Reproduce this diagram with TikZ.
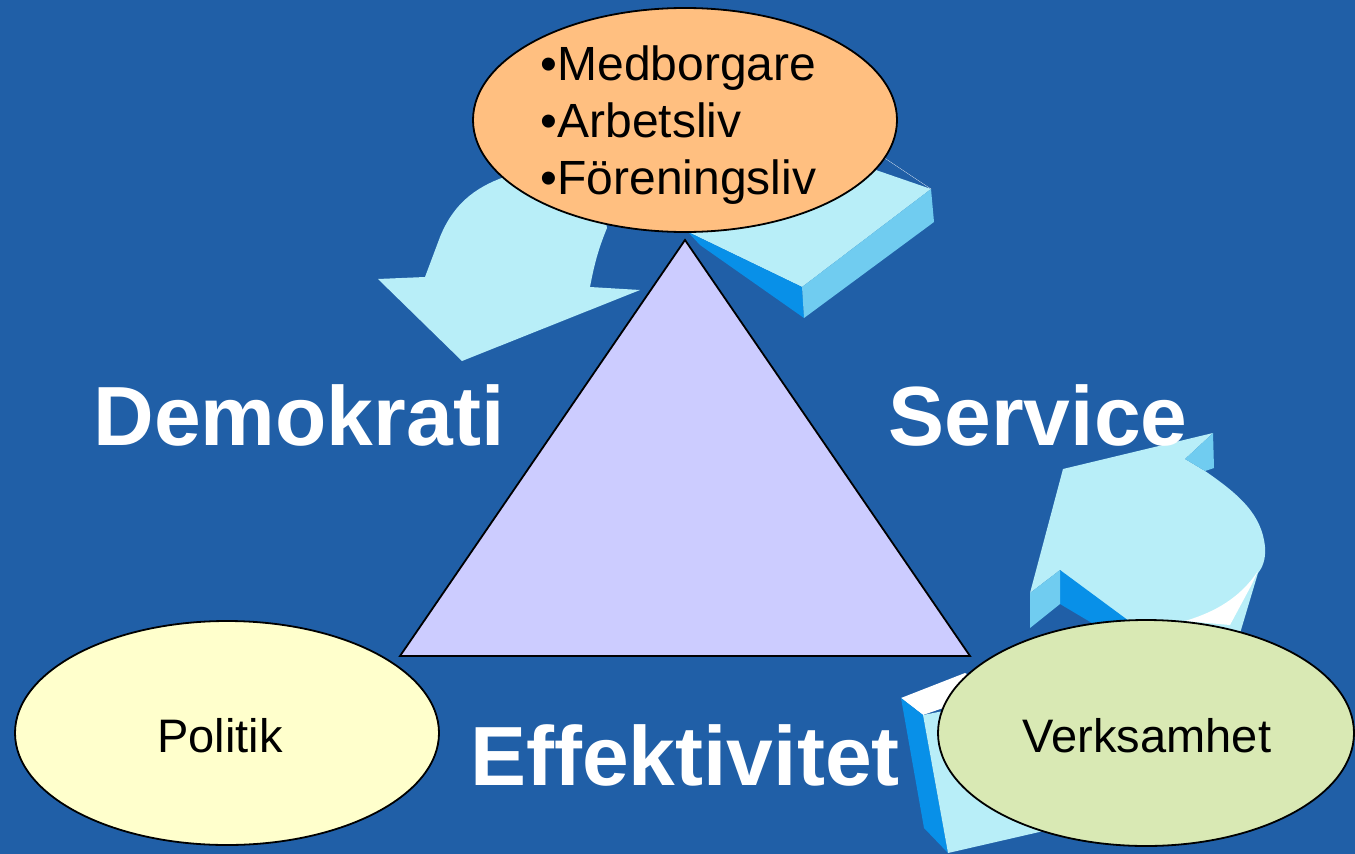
\documentclass[tikz,border=0pt]{standalone}
\usepackage{fontspec}
\setmainfont{Liberation Sans}
\usetikzlibrary{shapes}

\definecolor{slidebg}{RGB}{32,95,167}
\definecolor{arrowlight}{RGB}{184,238,248}
\definecolor{arrowmid}{RGB}{112,204,240}
\definecolor{arrowdark}{RGB}{8,144,232}
\definecolor{orangefill}{RGB}{255,191,128}
\definecolor{lavfill}{RGB}{204,204,255}
\definecolor{yellowfill}{RGB}{255,255,204}
\definecolor{greenfill}{RGB}{217,233,180}

\begin{document}
\begin{tikzpicture}[x=1pt,y=-1pt]
   \tikzset{BlobStyle/.style={ellipse, draw=black, line width=1.8pt, inner sep=0pt}}
   \tikzset{ItemStyle/.style={anchor=base west, font=\fontsize{48}{57}\selectfont}}
   \tikzset{WordStyle/.style={anchor=base, text=white, font=\fontsize{84}{98}\selectfont\bfseries}}
   \tikzset{SmallStyle/.style={anchor=base, font=\fontsize{47}{55}\selectfont}}
   \fill[slidebg] (0,0) rectangle (1355,854);
   % arrow top left
   \fill[arrowlight] (425,277) -- (440,237) .. controls (455,200) and (480,185) .. (510,175)
      -- (600,190) -- (607,228) .. controls (600,245) and (595,260) .. (590,287)
      -- (640,290) -- (462,361) -- (378,279) -- cycle;
   % arrow top right
   \fill[arrowlight] (700,200) -- (870,168) -- (931,189) -- (802,287) -- (688,232) -- cycle;
   \fill[arrowdark] (688,232) -- (802,287) -- (804,318) -- (700,245) -- cycle;
   \fill[arrowmid] (802,287) -- (931,189) -- (934,222) -- (804,318) -- cycle;
   \draw[white, very thin] (880,155) -- (931,189);
   \node[BlobStyle, fill=orangefill, minimum width=424pt, minimum height=224pt] (medborg) at (685,120) {};
   \node[ItemStyle] (med) at (537,80) {•Medborgare};
   \node[ItemStyle] (arb) at (537,137) {•Arbetsliv};
   \node[ItemStyle] (foren) at (537,194) {•Föreningsliv};
   % triangle
   \draw[fill=lavfill, line width=1.8pt, line join=miter] (685,240) -- (970,656) -- (400,656) -- cycle;
   % arrow right
   \fill[arrowlight] (1063,469) -- (1213,433) -- (1185,459) -- (1205,471)
      .. controls (1240,495) and (1262,515) .. (1265,547)
      .. controls (1266,560) and (1262,568) .. (1258,573)
      -- (1238,640) -- (1130,640) -- (1060,570) -- (1030,593) -- cycle;
   \fill[arrowmid] (1185,459) -- (1213,433) -- (1214,468) -- (1205,471) -- cycle;
   \fill[arrowdark] (1060,570) -- (1129,621) -- (1129,645) -- (1060,604) -- cycle;
   \fill[arrowmid] (1030,593) -- (1060,570) -- (1060,604) -- (1030,628) -- cycle;
   \fill[white] (1258,571) .. controls (1240,598) and (1215,612) .. (1185,621)
      -- (1230,625) -- (1252,584) -- cycle;
   % arrow bottom
   \fill[white] (901,698) -- (965,673) -- (995,690) -- (923,715) -- cycle;
   \fill[arrowdark] (901,698) -- (923,715) -- (948,853) -- (924,828) -- cycle;
   \fill[arrowlight] (923,715) -- (1000,700) -- (1048,830) -- (948,853) -- cycle;
   % ellipses
   \node[BlobStyle, fill=yellowfill, minimum width=424pt, minimum height=224pt] (politik) at (227,733) {};
   \node[BlobStyle, fill=greenfill, minimum width=416pt, minimum height=226pt] (verks) at (1146,733) {};
   \node[SmallStyle] (politiktext) at (220,752) {Politik};
   \node[SmallStyle] (verkstext) at (1147,752) {Verksamhet};
   \node[WordStyle] (demo) at (299,445) {Demokrati};
   \node[WordStyle] (serv) at (1038,445) {Service};
   \node[WordStyle] (effekt) at (685,785) {Effektivitet};
\end{tikzpicture}
\end{document}
